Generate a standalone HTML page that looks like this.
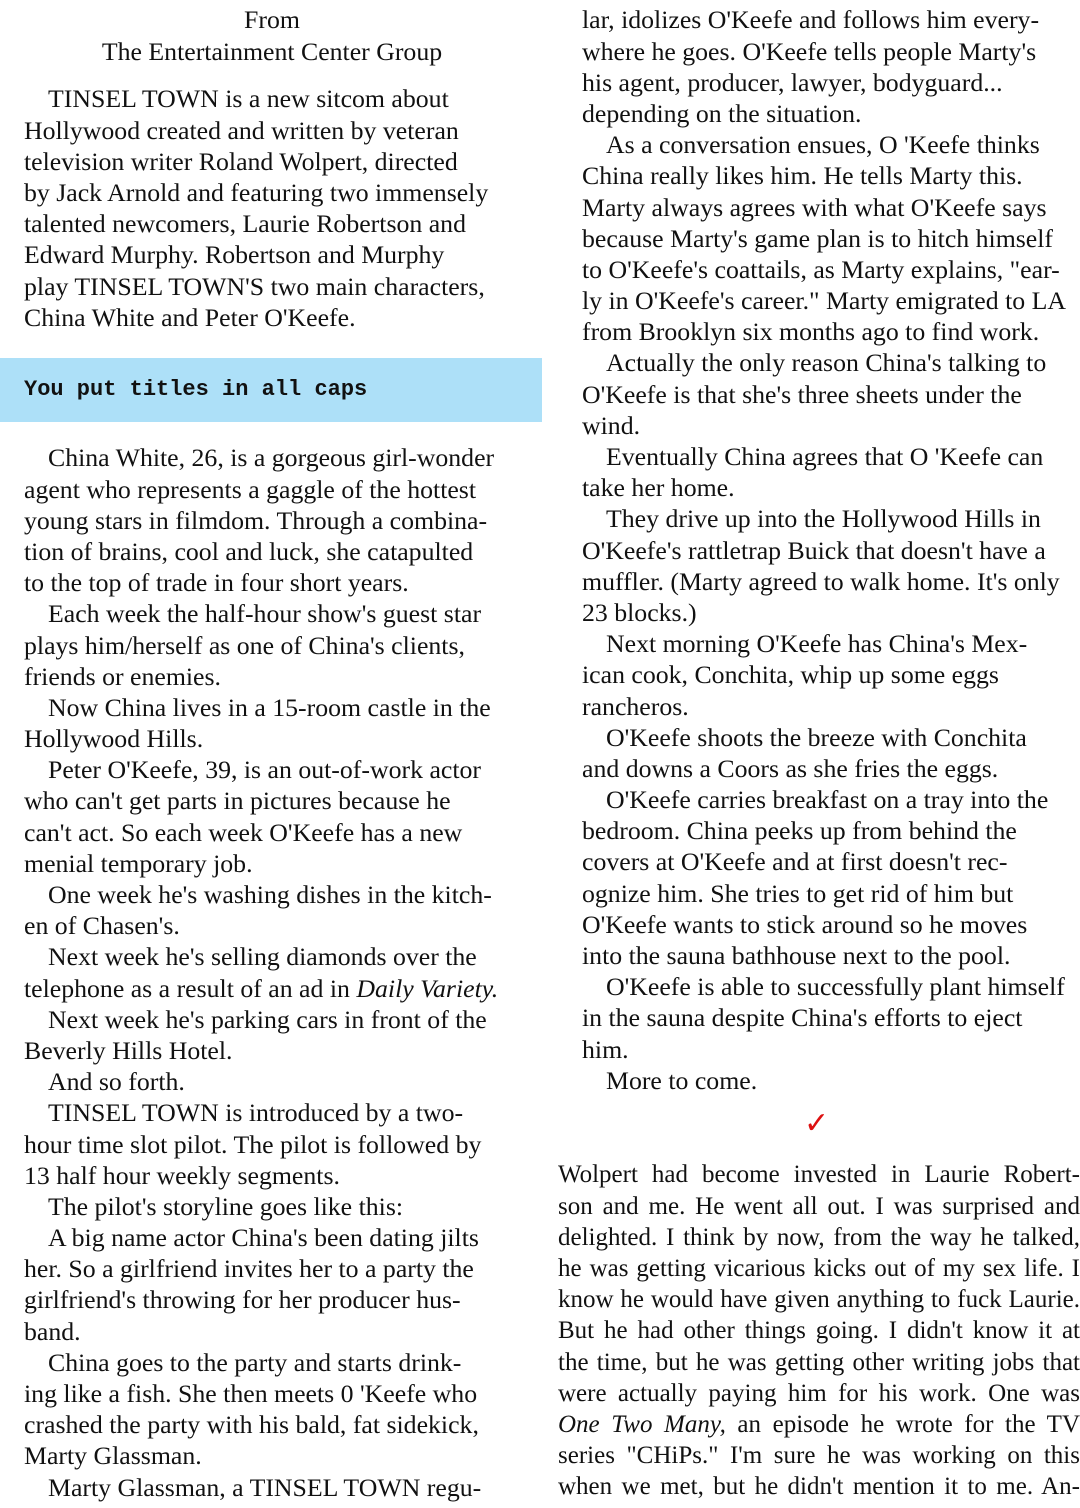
<!DOCTYPE html>
<html><head><meta charset="utf-8"><style>
body{margin:0;width:1080px;height:1508px;background:#fff;position:relative;overflow:hidden;font-family:"Liberation Serif",serif;font-size:25.8px;color:#111}
.c{position:absolute;line-height:31.2px;white-space:nowrap}
.c div{height:31.2px}
.i{padding-left:24px}
.j{text-align:justify;text-align-last:justify;white-space:normal;overflow:hidden}
#bar{position:absolute;left:0;top:358px;width:542px;height:64px;background:#ade0f8}
#bar span{position:absolute;left:24px;top:17px;font-family:"Liberation Mono",monospace;font-size:22px;font-weight:bold;line-height:30px}
</style></head><body>
<div class="c" style="left:24px;top:4.4px;width:496px;text-align:center"><div>From</div><div>The Entertainment Center Group</div></div>
<div class="c" style="left:24px;top:83.4px">
<div class="i">TINSEL TOWN is a new sitcom about</div>
<div>Hollywood created and written by veteran</div>
<div>television writer Roland Wolpert, directed</div>
<div>by Jack Arnold and featuring two immensely</div>
<div>talented newcomers, Laurie Robertson and</div>
<div>Edward Murphy. Robertson and Murphy</div>
<div>play TINSEL TOWN'S two main characters,</div>
<div>China White and Peter O'Keefe.</div>
</div>
<div id="bar"><span>You put titles in all caps</span></div>
<div class="c" style="left:24px;top:442.4px">
<div class="i">China White, 26, is a gorgeous girl-wonder</div>
<div>agent who represents a gaggle of the hottest</div>
<div>young stars in filmdom. Through a combina-</div>
<div>tion of brains, cool and luck, she catapulted</div>
<div>to the top of trade in four short years.</div>
<div class="i">Each week the half-hour show's guest star</div>
<div>plays him/herself as one of China's clients,</div>
<div>friends or enemies.</div>
<div class="i">Now China lives in a 15-room castle in the</div>
<div>Hollywood Hills.</div>
<div class="i">Peter O'Keefe, 39, is an out-of-work actor</div>
<div>who can't get parts in pictures because he</div>
<div>can't act. So each week O'Keefe has a new</div>
<div>menial temporary job.</div>
<div class="i">One week he's washing dishes in the kitch-</div>
<div>en of Chasen's.</div>
<div class="i">Next week he's selling diamonds over the</div>
<div>telephone as a result of an ad in <i>Daily Variety.</i></div>
<div class="i">Next week he's parking cars in front of the</div>
<div>Beverly Hills Hotel.</div>
<div class="i">And so forth.</div>
<div class="i">TINSEL TOWN is introduced by a two-</div>
<div>hour time slot pilot. The pilot is followed by</div>
<div>13 half hour weekly segments.</div>
<div class="i">The pilot's storyline goes like this:</div>
<div class="i">A big name actor China's been dating jilts</div>
<div>her. So a girlfriend invites her to a party the</div>
<div>girlfriend's throwing for her producer hus-</div>
<div>band.</div>
<div class="i">China goes to the party and starts drink-</div>
<div>ing like a fish. She then meets 0 'Keefe who</div>
<div>crashed the party with his bald, fat sidekick,</div>
<div>Marty Glassman.</div>
<div class="i">Marty Glassman, a TINSEL TOWN regu-</div>
</div>
<div class="c" style="left:582px;top:4.4px">
<div>lar, idolizes O'Keefe and follows him every-</div>
<div>where he goes. O'Keefe tells people Marty's</div>
<div>his agent, producer, lawyer, bodyguard...</div>
<div>depending on the situation.</div>
<div class="i">As a conversation ensues, O 'Keefe thinks</div>
<div>China really likes him. He tells Marty this.</div>
<div>Marty always agrees with what O'Keefe says</div>
<div>because Marty's game plan is to hitch himself</div>
<div>to O'Keefe's coattails, as Marty explains, "ear-</div>
<div>ly in O'Keefe's career." Marty emigrated to LA</div>
<div>from Brooklyn six months ago to find work.</div>
<div class="i">Actually the only reason China's talking to</div>
<div>O'Keefe is that she's three sheets under the</div>
<div>wind.</div>
<div class="i">Eventually China agrees that O 'Keefe can</div>
<div>take her home.</div>
<div class="i">They drive up into the Hollywood Hills in</div>
<div>O'Keefe's rattletrap Buick that doesn't have a</div>
<div>muffler. (Marty agreed to walk home. It's only</div>
<div>23 blocks.)</div>
<div class="i">Next morning O'Keefe has China's Mex-</div>
<div>ican cook, Conchita, whip up some eggs</div>
<div>rancheros.</div>
<div class="i">O'Keefe shoots the breeze with Conchita</div>
<div>and downs a Coors as she fries the eggs.</div>
<div class="i">O'Keefe carries breakfast on a tray into the</div>
<div>bedroom. China peeks up from behind the</div>
<div>covers at O'Keefe and at first doesn't rec-</div>
<div>ognize him. She tries to get rid of him but</div>
<div>O'Keefe wants to stick around so he moves</div>
<div>into the sauna bathhouse next to the pool.</div>
<div class="i">O'Keefe is able to successfully plant himself</div>
<div>in the sauna despite China's efforts to eject</div>
<div>him.</div>
<div class="i">More to come.</div>
</div>
<div class="c" style="left:804px;top:1108px;color:#d11;font-size:30px;font-family:'DejaVu Sans',sans-serif">✓</div>
<div class="c" style="left:558px;top:1159.4px;width:522px;font-size:25px">
<div class="j">Wolpert had become invested in Laurie Robert-</div>
<div class="j">son and me. He went all out. I was surprised and</div>
<div class="j">delighted. I think by now, from the way he talked,</div>
<div class="j">he was getting vicarious kicks out of my sex life. I</div>
<div class="j">know he would have given anything to fuck Laurie.</div>
<div class="j">But he had other things going. I didn't know it at</div>
<div class="j">the time, but he was getting other writing jobs that</div>
<div class="j">were actually paying him for his work. One was</div>
<div class="j"><i>One Two Many,</i> an episode he wrote for the TV</div>
<div class="j">series "CHiPs." I'm sure he was working on this</div>
<div class="j">when we met, but he didn't mention it to me. An-</div>
</div>
</body></html>
